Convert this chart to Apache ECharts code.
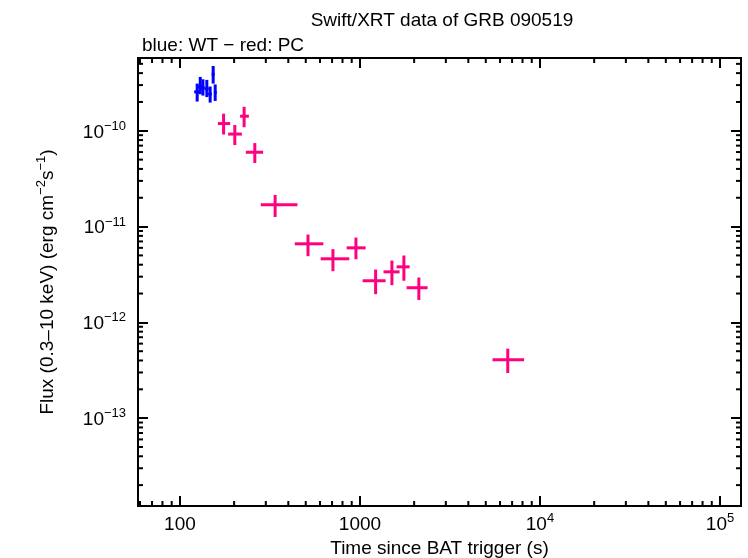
<!DOCTYPE html>
<html>
<head>
<meta charset="utf-8">
<script src="https://cdn.jsdelivr.net/npm/echarts@6/dist/echarts.min.js"></script>
<style>
html,body{margin:0;padding:0;background:#fff;}
#chart{width:748px;height:558px;}
</style>
</head>
<body>
<div id="chart"></div>
<script>
// WT mode (blue)
var wtTime   = [124.7, 129.7, 134.2, 141.1, 147.2, 153.0, 157.0];
var wtTimeLo = [120.0, 126.0, 131.0, 137.5, 143.5, 150.0, 154.5];
var wtTimeHi = [130.7, 133.0, 137.5, 144.5, 150.5, 156.0, 160.0];
var wtFlux   = [2.55e-10, 2.87e-10, 2.81e-10, 2.74e-10, 2.42e-10, 3.90e-10, 2.51e-10];
var wtFluxLo = [2.02e-10, 2.41e-10, 2.33e-10, 2.25e-10, 1.97e-10, 3.11e-10, 2.05e-10];
var wtFluxHi = [3.11e-10, 3.65e-10, 3.45e-10, 3.40e-10, 2.90e-10, 4.75e-10, 3.05e-10];

// PC mode (red)
var pcTime   = [174.8, 201.8, 227.3, 260.6, 337.9, 514.6, 707.9, 950, 1222, 1505, 1754, 2124, 6622];
var pcTimeLo = [162.5, 185.3, 215.9, 232.3, 281.2, 434.5, 605.2, 844, 1035, 1352, 1598, 1816, 5448];
var pcTimeHi = [190.1, 220.9, 241.6, 289.8, 449.6, 626.6, 873, 1075.5, 1388, 1660, 1889, 2375, 8166];
var pcFlux   = [1.19e-10, 9.24e-11, 1.42e-10, 5.97e-11, 1.69e-11, 6.61e-12, 4.61e-12, 6.0e-12, 2.72e-12, 3.37e-12, 3.80e-12, 2.30e-12, 4.08e-13];
var pcFluxLo = [9.15e-11, 7.10e-11, 1.09e-10, 4.61e-11, 1.26e-11, 4.91e-12, 3.42e-12, 4.56e-12, 1.97e-12, 2.45e-12, 2.72e-12, 1.71e-12, 2.96e-13];
var pcFluxHi = [1.51e-10, 1.15e-10, 1.78e-10, 7.44e-11, 2.14e-11, 8.26e-12, 5.81e-12, 7.68e-12, 3.56e-12, 4.42e-12, 4.99e-12, 2.94e-12, 5.32e-13];

var xMin = 58.5, xMax = 130800;
var yMin = Math.pow(10, -13.917), yMax = Math.pow(10, -9.240);

var titleText = 'Swift/XRT data of GRB 090519';
var subText = 'blue: WT \u2212 red: PC';
var xName = 'Time since BAT trigger (s)';

function rows(t, tl, th, f, fl, fh) {
  return t.map(function (v, i) { return [v, tl[i], th[i], f[i], fl[i], fh[i]]; });
}

function crossRenderer(color) {
  return function (params, api) {
    var t = api.value(0), tl = api.value(1), th = api.value(2);
    var f = api.value(3), fl = api.value(4), fh = api.value(5);
    var a = api.coord([tl, f]), b = api.coord([th, f]);
    var d = api.coord([t, fh]), e = api.coord([t, fl]);
    return {
      type: 'group',
      children: [
        { type: 'line', shape: { x1: a[0], y1: a[1], x2: b[0], y2: b[1] }, style: { stroke: color, lineWidth: 3 } },
        { type: 'line', shape: { x1: d[0], y1: d[1], x2: e[0], y2: e[1] }, style: { stroke: color, lineWidth: 3 } }
      ]
    };
  };
}

// minor tick values (2..9 x 10^n)
var xMinor = [], yMinor = [];
for (var p = 1; p <= 5; p++) for (var k = 2; k <= 9; k++) { var v = k * Math.pow(10, p); if (v > xMin && v < xMax) xMinor.push(v); }
for (var q = -14; q <= -10; q++) for (var k2 = 2; k2 <= 9; k2++) { var w = k2 * Math.pow(10, q); if (w > yMin && w < yMax) yMinor.push(w); }

function minorXRender(params, api) {
  var cs = params.coordSys;
  var x = api.coord([api.value(0), yMin])[0];
  return { type: 'group', children: [
    { type: 'line', shape: { x1: x, y1: cs.y + cs.height, x2: x, y2: cs.y + cs.height - 5 }, style: { stroke: '#000', lineWidth: 2 } },
    { type: 'line', shape: { x1: x, y1: cs.y, x2: x, y2: cs.y + 5 }, style: { stroke: '#000', lineWidth: 2 } }
  ]};
}
function minorYRender(params, api) {
  var cs = params.coordSys;
  var y = api.coord([xMin, api.value(0)])[1];
  return { type: 'group', children: [
    { type: 'line', shape: { x1: cs.x, y1: y, x2: cs.x + 5, y2: y }, style: { stroke: '#000', lineWidth: 2 } },
    { type: 'line', shape: { x1: cs.x + cs.width, y1: y, x2: cs.x + cs.width - 5, y2: y }, style: { stroke: '#000', lineWidth: 2 } }
  ]};
}

var font = 'Liberation Sans, Arial, Helvetica, sans-serif';

function xLabel(val) {
  var e = Math.round(Math.log10(val));
  if (e === 2) return '{b|100}';
  if (e === 3) return '{b|1000}';
  return '{b|10}{s|' + e + '}';
}
function yLabel(val) {
  var e = Math.round(Math.log10(val));
  return '{b|10}{s|\u2212' + Math.abs(e) + '}';
}
var richLab = {
  b: { fontFamily: font, fontSize: 19, color: '#000', lineHeight: 22, verticalAlign: 'bottom' },
  s: { fontFamily: font, fontSize: 13, color: '#000', lineHeight: 22, verticalAlign: 'top', padding: [0, 0, 7, 0] }
};

var chart = echarts.init(document.getElementById('chart'), null, { renderer: 'canvas' });
chart.setOption({
  animation: false,
  backgroundColor: '#fff',
  title: [
    { text: titleText, left: 437, top: 6, textAlign: 'center', textStyle: { fontFamily: font, fontSize: 19, fontWeight: 'normal', color: '#000' } },
    { text: subText, left: 137, top: 31, textStyle: { fontFamily: font, fontSize: 19, fontWeight: 'normal', color: '#000' } }
  ],
  grid: { left: 138, right: 7, top: 58, bottom: 52, show: true, borderColor: '#000', borderWidth: 2, backgroundColor: 'transparent', outerBoundsMode: 'none', containLabel: false },
  xAxis: [
    {
      type: 'log', logBase: 10, min: xMin, max: xMax, position: 'bottom',
      name: xName, nameLocation: 'middle', nameGap: 27,
      nameTextStyle: { fontFamily: font, fontSize: 19, color: '#000' },
      axisLine: { show: true, lineStyle: { color: '#000', width: 2 } },
      axisTick: { show: true, inside: true, length: 10, lineStyle: { color: '#000', width: 2 } },
      axisLabel: { show: true, showMinLabel: false, showMaxLabel: false, margin: 6, formatter: xLabel, rich: richLab },
      splitLine: { show: false }, minorTick: { show: false }
    },
    {
      type: 'log', logBase: 10, min: xMin, max: xMax, position: 'top',
      axisLine: { show: true, lineStyle: { color: '#000', width: 2 } },
      axisTick: { show: true, inside: true, length: 10, lineStyle: { color: '#000', width: 2 } },
      axisLabel: { show: false }, splitLine: { show: false }
    }
  ],
  yAxis: [
    {
      type: 'log', logBase: 10, min: yMin, max: yMax, position: 'left',
      name: '{n|Flux (0.3\u201310 keV) (erg cm}{s|\u22122}{n|s}{s|\u22121}{n|)}',
      nameLocation: 'middle', nameGap: 81, nameRotate: 90,
      nameTextStyle: { rich: {
        n: { fontFamily: font, fontSize: 19, color: '#000', lineHeight: 22, verticalAlign: 'bottom' },
        s: { fontFamily: font, fontSize: 13, color: '#000', lineHeight: 22, verticalAlign: 'top', padding: [0, 0, 7, 0] }
      } },
      axisLine: { show: true, lineStyle: { color: '#000', width: 2 } },
      axisTick: { show: true, inside: true, length: 10, lineStyle: { color: '#000', width: 2 } },
      axisLabel: { show: true, showMinLabel: false, showMaxLabel: false, margin: 12, formatter: yLabel, rich: richLab },
      splitLine: { show: false }
    },
    {
      type: 'log', logBase: 10, min: yMin, max: yMax, position: 'right',
      axisLine: { show: true, lineStyle: { color: '#000', width: 2 } },
      axisTick: { show: true, inside: true, length: 10, lineStyle: { color: '#000', width: 2 } },
      axisLabel: { show: false }, splitLine: { show: false }
    }
  ],
  series: [
    { type: 'custom', name: 'minorX', renderItem: minorXRender, data: xMinor.map(function (v) { return [v]; }), encode: { x: 0 }, silent: true, clip: false },
    { type: 'custom', name: 'minorY', renderItem: minorYRender, data: yMinor.map(function (v) { return [v]; }), encode: { y: 0 }, silent: true, clip: false },
    { type: 'custom', name: 'PC', renderItem: crossRenderer('#ff0080'), data: rows(pcTime, pcTimeLo, pcTimeHi, pcFlux, pcFluxLo, pcFluxHi), encode: { x: [0, 1, 2], y: [3, 4, 5] }, z: 3 },
    { type: 'custom', name: 'WT', renderItem: crossRenderer('#0000ff'), data: rows(wtTime, wtTimeLo, wtTimeHi, wtFlux, wtFluxLo, wtFluxHi), encode: { x: [0, 1, 2], y: [3, 4, 5] }, z: 4 }
  ]
});
</script>
</body>
</html>
